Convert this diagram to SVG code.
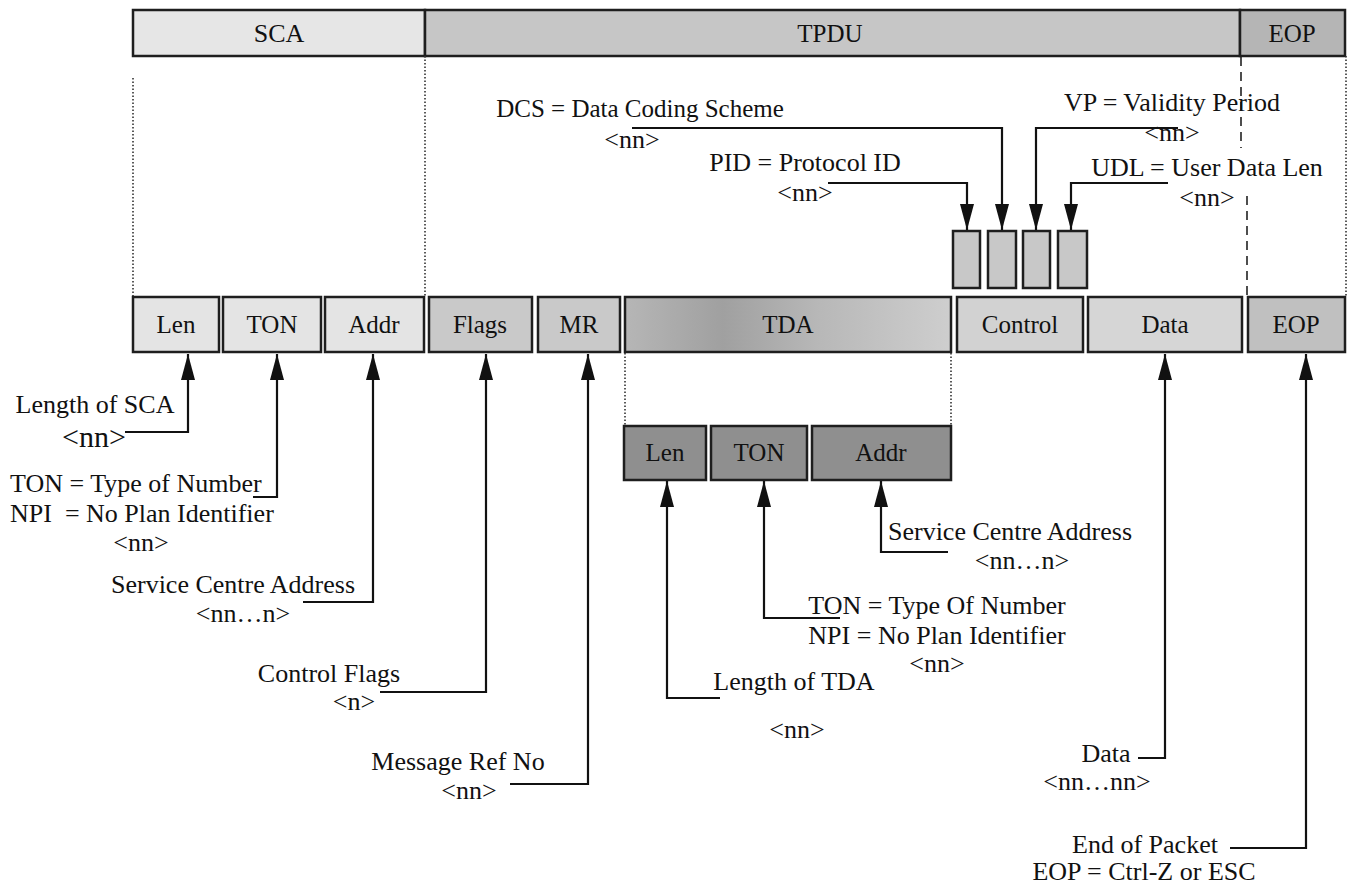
<svg xmlns="http://www.w3.org/2000/svg" width="1353" height="884" viewBox="0 0 1353 884">
<style>
.bx{stroke:#1e1e1e;stroke-width:2.5}
.t{font-family:"Liberation Serif","Times New Roman",serif;font-size:26px;fill:#111}
.c{text-anchor:middle}
.lb{font-family:"Liberation Serif","Times New Roman",serif;font-size:25px;fill:#111;text-anchor:middle}
.dot{stroke:#333;stroke-width:1.6;stroke-dasharray:1.5 2;fill:none}
.dash{stroke:#222;stroke-width:1.6;stroke-dasharray:9 6;fill:none}
.cn{stroke:#111;stroke-width:2.2;fill:none;marker-end:url(#ah)}
</style>
<defs>
<marker id="ah" viewBox="0 0 26 14" refX="26" refY="7" markerWidth="26" markerHeight="14" markerUnits="userSpaceOnUse" orient="auto">
<path d="M0,0 L26,7 L0,14 z" fill="#111"/>
</marker>
<linearGradient id="tda" x1="0" y1="0" x2="1" y2="0">
<stop offset="0" stop-color="#b6b6b6"/>
<stop offset="0.3" stop-color="#a0a0a0"/>
<stop offset="0.6" stop-color="#b8b8b8"/>
<stop offset="1" stop-color="#cecece"/>
</linearGradient>
</defs>
<rect width="1353" height="884" fill="#fff"/>

<g id="topbar">
<rect class="bx" x="133" y="10" width="292" height="46" fill="#e6e6e6"/>
<rect class="bx" x="425" y="10" width="815" height="46" fill="#c6c6c6"/>
<rect class="bx" x="1240" y="10" width="105" height="46" fill="#b5b5b5"/>
<text class="lb" x="279" y="42" style="font-size:26px">SCA</text>
<text class="lb" x="830" y="42">TPDU</text>
<text class="lb" x="1292" y="42">EOP</text>
</g>

<g id="guides">
<line class="dot" x1="133" y1="78" x2="133" y2="297"/>
<line class="dot" x1="425" y1="56" x2="425" y2="297"/>
<line class="dot" x1="1346" y1="56" x2="1346" y2="297"/>
<line class="dash" x1="1241" y1="57" x2="1241" y2="148"/>
<line class="dash" x1="1247" y1="196" x2="1247" y2="296"/>
<line class="dot" x1="625" y1="353" x2="625" y2="426"/>
<line class="dot" x1="951" y1="353" x2="951" y2="426"/>
</g>

<g id="sca-len"><rect class="bx" x="133" y="297" width="86" height="55" fill="#e4e4e4"/><text class="lb" x="176" y="333">Len</text></g>
<g id="sca-ton"><rect class="bx" x="223" y="297" width="98" height="55" fill="#e4e4e4"/><text class="lb" x="272" y="333">TON</text></g>
<g id="sca-addr"><rect class="bx" x="325" y="297" width="99" height="55" fill="#e4e4e4"/><text class="lb" x="374" y="333">Addr</text></g>
<g id="flags"><rect class="bx" x="429" y="297" width="103" height="55" fill="#c9c9c9"/><text class="lb" x="480" y="333">Flags</text></g>
<g id="mr"><rect class="bx" x="538" y="297" width="82" height="55" fill="#c9c9c9"/><text class="lb" x="579" y="333">MR</text></g>
<g id="tda-box"><rect class="bx" x="625" y="297" width="326" height="55" fill="url(#tda)"/><text class="lb" x="788" y="333">TDA</text></g>
<g id="control"><rect class="bx" x="957" y="297" width="126" height="55" fill="#d2d2d2"/><text class="lb" x="1020" y="333">Control</text></g>
<g id="data"><rect class="bx" x="1088" y="297" width="154" height="55" fill="#d6d6d6"/><text class="lb" x="1165" y="333">Data</text></g>
<g id="eop"><rect class="bx" x="1248" y="297" width="97" height="55" fill="#c0c0c0"/><text class="lb" x="1296" y="333">EOP</text></g>

<g id="ctl-fields">
<rect class="bx" x="953" y="231" width="27" height="57" fill="#c8c8c8"/>
<rect class="bx" x="988" y="231" width="28" height="57" fill="#c8c8c8"/>
<rect class="bx" x="1023" y="231" width="27" height="57" fill="#c8c8c8"/>
<rect class="bx" x="1058" y="231" width="29" height="57" fill="#c8c8c8"/>
</g>

<g id="tda-len"><rect class="bx" x="624" y="426" width="82" height="54" fill="#8f8f8f"/><text class="lb" x="665" y="461">Len</text></g>
<g id="tda-ton"><rect class="bx" x="711" y="426" width="96" height="54" fill="#8f8f8f"/><text class="lb" x="759" y="461">TON</text></g>
<g id="tda-addr"><rect class="bx" x="812" y="426" width="139" height="54" fill="#8f8f8f"/><text class="lb" x="881" y="461">Addr</text></g>

<g id="connectors">
<path class="cn" d="M125,432 H188 V354"/>
<path class="cn" d="M253,497 H277 V354"/>
<path class="cn" d="M303,602 H373 V354"/>
<path class="cn" d="M380,692 H486 V354"/>
<path class="cn" d="M510,784 H588 V354"/>
<path class="cn" d="M720,698 H667 V481"/>
<path class="cn" d="M840,618 H764 V481"/>
<path class="cn" d="M948,552 H881 V481"/>
<path class="cn" d="M1138,758 H1165 V354"/>
<path class="cn" d="M1230,848 H1306 V354"/>
<path class="cn" d="M828,183 H967 V230"/>
<path class="cn" d="M632,128 H1002 V230"/>
<path class="cn" d="M1178,128 H1036 V230"/>
<path class="cn" d="M1168,183 H1071 V230"/>
</g>

<g id="labels">
<text class="t c" x="95" y="413">Length of SCA</text>
<text class="t c" x="94" y="447" style="font-size:30px">&lt;nn&gt;</text>
<text class="t" x="10" y="492">TON = Type of Number</text>
<text class="t" x="10" y="522" xml:space="preserve">NPI  = No Plan Identifier</text>
<text class="t c" x="141" y="551">&lt;nn&gt;</text>
<text class="t c" x="233" y="593">Service Centre Address</text>
<text class="t c" x="243" y="622">&lt;nn…n&gt;</text>
<text class="t c" x="329" y="682">Control Flags</text>
<text class="t c" x="354" y="710">&lt;n&gt;</text>
<text class="t c" x="458" y="770">Message Ref No</text>
<text class="t c" x="469" y="799">&lt;nn&gt;</text>
<text class="t c" x="794" y="690">Length of TDA</text>
<text class="t c" x="797" y="738">&lt;nn&gt;</text>
<text class="t c" x="1010" y="540">Service Centre Address</text>
<text class="t c" x="1022" y="569">&lt;nn…n&gt;</text>
<text class="t c" x="937" y="614">TON = Type Of Number</text>
<text class="t c" x="937" y="644">NPI = No Plan Identifier</text>
<text class="t c" x="937" y="672">&lt;nn&gt;</text>
<text class="t c" x="1106" y="762">Data</text>
<text class="t c" x="1097" y="790">&lt;nn…nn&gt;</text>
<text class="t c" x="1145" y="853">End of Packet</text>
<text class="t c" x="1144" y="880">EOP = Ctrl-Z or ESC</text>
<text class="t c" x="640" y="117" style="font-size:25px">DCS = Data Coding Scheme</text>
<text class="t c" x="632" y="148">&lt;nn&gt;</text>
<text class="t c" x="805" y="171">PID = Protocol ID</text>
<text class="t c" x="805" y="201">&lt;nn&gt;</text>
<text class="t c" x="1172" y="111">VP = Validity Period</text>
<text class="t c" x="1172" y="141">&lt;nn&gt;</text>
<text class="t c" x="1207" y="176">UDL = User Data Len</text>
<text class="t c" x="1207" y="206">&lt;nn&gt;</text>
</g>
</svg>
